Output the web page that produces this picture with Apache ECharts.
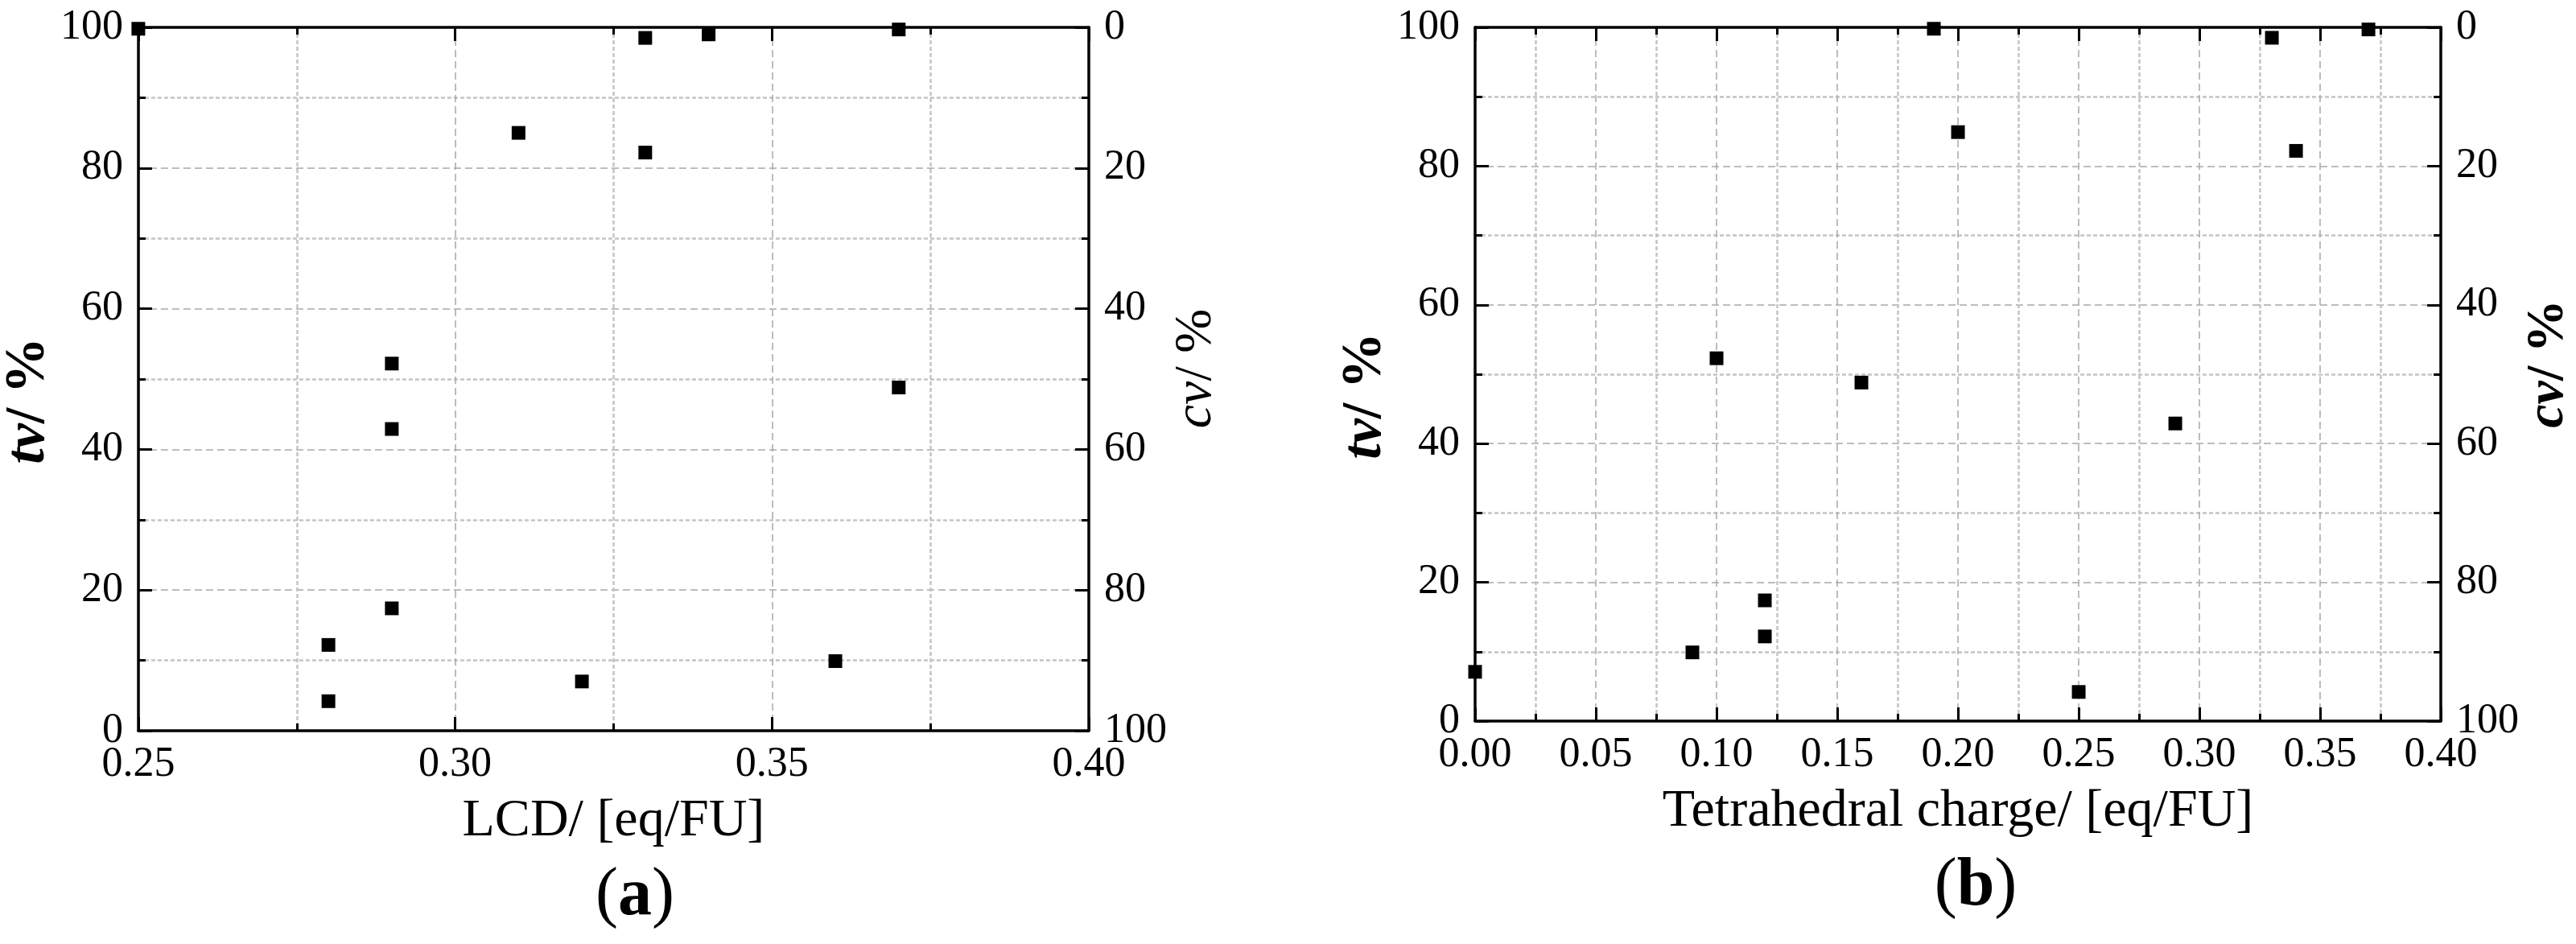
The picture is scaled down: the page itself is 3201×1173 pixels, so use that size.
<!DOCTYPE html>
<html>
<head>
<meta charset="utf-8">
<script src="https://cdn.jsdelivr.net/npm/echarts@6/dist/echarts.min.js"></script>
<style>
html,body{margin:0;padding:0;background:#fff;}
#c{width:3201px;height:1173px;}
</style>
</head>
<body>
<div id="c"></div>
<script>
// Panel (a): LCD vs tv
var lcdX  = [0.25, 0.33, 0.34, 0.37, 0.31, 0.33, 0.29, 0.29, 0.37, 0.29, 0.28, 0.28, 0.32, 0.36];
var lcdTv = [99.8, 98.5, 99.0, 99.7, 85.0, 82.2, 52.2, 42.9, 48.8, 17.4, 12.2, 4.2, 7.0, 9.9];
// Panel (b): Tetrahedral charge vs tv
var tcX  = [0.00, 0.09, 0.10, 0.12, 0.12, 0.16, 0.19, 0.20, 0.25, 0.29, 0.33, 0.34, 0.37];
var tcTv = [7.1, 9.9, 52.3, 17.4, 12.2, 48.8, 99.8, 84.9, 4.2, 42.9, 98.5, 82.2, 99.7];

var xLabelA = 'LCD/ [eq/FU]';
var xLabelB = 'Tetrahedral charge/ [eq/FU]';

var FONT = '"Liberation Serif", "Times New Roman", serif';
var chart = echarts.init(document.getElementById('c'), null, {renderer: 'canvas'});

function pairs(xs, ys) { return xs.map(function (x, i) { return [x, ys[i]]; }); }

var axisLine = {show: true, onZero: false, lineStyle: {color: '#000', width: 3.5}};
var axisTick = {show: true, inside: true, length: 17, lineStyle: {color: '#000', width: 3}};
var minorTick = {show: true, splitNumber: 2, length: 9, lineStyle: {color: '#000', width: 3}};
var splitLine = {show: true, lineStyle: {color: '#a8a8a8', width: 1.5, type: [9, 5]}};
var minorSplitLine = {show: true, lineStyle: {color: '#c4c4c4', width: 2.5, type: [5, 3]}};
var labelStyle = {fontFamily: FONT, fontSize: 52, color: '#000'};

function xBottom(grid, min, max, name) {
  return {
    type: 'value', gridIndex: grid, position: 'bottom', min: min, max: max, interval: 0.05,
    axisLine: axisLine, axisTick: axisTick, minorTick: minorTick,
    splitLine: splitLine, minorSplitLine: minorSplitLine,
    axisLabel: Object.assign({margin: 16, formatter: function (v) { return v.toFixed(2); }}, labelStyle),
    name: name, nameLocation: 'middle', nameGap: 80,
    nameTextStyle: {fontFamily: FONT, fontSize: 66, color: '#000'}
  };
}
function xTop(grid, min, max) {
  return {
    type: 'value', gridIndex: grid, position: 'top', min: min, max: max, interval: 0.05,
    axisLine: axisLine, axisTick: axisTick, minorTick: minorTick,
    splitLine: {show: false}, minorSplitLine: {show: false},
    axisLabel: {show: false}
  };
}
function yLeft(grid) {
  return {
    type: 'value', gridIndex: grid, position: 'left', min: 0, max: 100, interval: 20,
    axisLine: axisLine, axisTick: axisTick, minorTick: minorTick,
    splitLine: splitLine, minorSplitLine: minorSplitLine,
    axisLabel: Object.assign({margin: 19}, labelStyle),
    name: '{i|tv}{n|/ %}', nameLocation: 'middle', nameGap: 88, nameRotate: 90,
    nameTextStyle: {
      padding: [0, 54, 0, 0],
      rich: {
        i: {fontFamily: FONT, fontSize: 70, fontStyle: 'italic', fontWeight: 'bold', color: '#000'},
        n: {fontFamily: FONT, fontSize: 70, fontWeight: 'bold', color: '#000'}
      }
    }
  };
}
function yRight(grid, bold) {
  var w = bold ? 'bold' : 'normal';
  return {
    type: 'value', gridIndex: grid, position: 'right', min: 0, max: 100, interval: 20, inverse: true,
    axisLine: axisLine, axisTick: axisTick, minorTick: minorTick,
    splitLine: {show: false}, minorSplitLine: {show: false},
    axisLabel: Object.assign({margin: 19}, labelStyle),
    name: '{i|cv}{n|/ %}', nameLocation: 'middle', nameGap: 94, nameRotate: 90,
    nameTextStyle: {
      padding: [0, 0, 0, 26],
      rich: {
        i: {fontFamily: FONT, fontSize: 66, fontStyle: 'italic', fontWeight: w, color: '#000'},
        n: {fontFamily: FONT, fontSize: 66, fontWeight: w, color: '#000'}
      }
    }
  };
}

var option = {
  backgroundColor: '#fff',
  animation: false,
  textStyle: {fontFamily: FONT},
  grid: [
    {left: 157, top: 34, width: 1196, height: 874},
    {left: 1833, top: 34, width: 1203, height: 862}
  ],
  xAxis: [
    xBottom(0, 0.25, 0.40, xLabelA),
    xTop(0, 0.25, 0.40),
    xBottom(1, 0, 0.40, xLabelB),
    xTop(1, 0, 0.40)
  ],
  yAxis: [
    yLeft(0),
    yRight(0, false),
    yLeft(1),
    yRight(1, true)
  ],
  series: [
    {type: 'scatter', xAxisIndex: 0, yAxisIndex: 0, symbol: 'rect', symbolSize: 17,
     itemStyle: {color: '#000', opacity: 1}, data: pairs(lcdX, lcdTv), z: 5},
    {type: 'scatter', xAxisIndex: 2, yAxisIndex: 2, symbol: 'rect', symbolSize: 17,
     itemStyle: {color: '#000', opacity: 1}, data: pairs(tcX, tcTv), z: 5}
  ],
  graphic: [
    {type: 'text', x: 789, y: 1072, style: {
      text: '{p|(}{b|a}{p|)}', align: 'center', verticalAlign: 'top',
      rich: {
        p: {fontFamily: FONT, fontSize: 84, fill: '#000'},
        b: {fontFamily: FONT, fontSize: 84, fontWeight: 'bold', fill: '#000'}
      }
    }},
    {type: 'text', x: 2455, y: 1060, style: {
      text: '{p|(}{b|b}{p|)}', align: 'center', verticalAlign: 'top',
      rich: {
        p: {fontFamily: FONT, fontSize: 84, fill: '#000'},
        b: {fontFamily: FONT, fontSize: 84, fontWeight: 'bold', fill: '#000'}
      }
    }}
  ]
};
chart.setOption(option);
</script>
</body>
</html>
